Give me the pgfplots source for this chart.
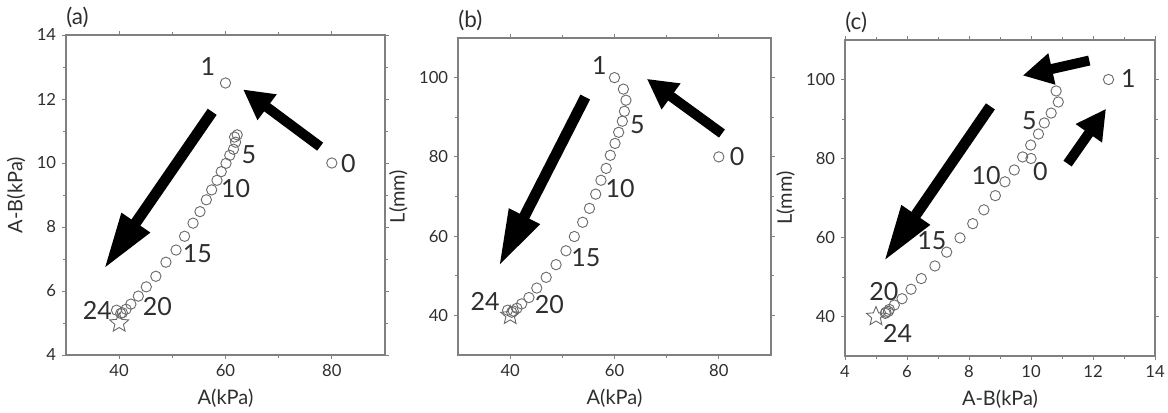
\documentclass[border=0pt]{standalone}
\usepackage{fontspec}
\setmainfont{Lato}
\usepackage{pgfplots}
\pgfplotsset{compat=1.18}
\usepackage{pgfplotstable}
\usetikzlibrary{arrows.meta}
\definecolor{axgray}{gray}{0.5}
\definecolor{mkgray}{gray}{0.42}
\definecolor{txtgray}{gray}{0.18}

% outlined five-point star for the start point
\pgfdeclareplotmark{ostar}{%
  \pgfpathmoveto{\pgfpointpolar{90}{\pgfplotmarksize}}%
  \pgfpathlineto{\pgfpointpolar{126}{0.45\pgfplotmarksize}}%
  \pgfpathlineto{\pgfpointpolar{162}{\pgfplotmarksize}}%
  \pgfpathlineto{\pgfpointpolar{198}{0.45\pgfplotmarksize}}%
  \pgfpathlineto{\pgfpointpolar{234}{\pgfplotmarksize}}%
  \pgfpathlineto{\pgfpointpolar{270}{0.45\pgfplotmarksize}}%
  \pgfpathlineto{\pgfpointpolar{306}{\pgfplotmarksize}}%
  \pgfpathlineto{\pgfpointpolar{342}{0.45\pgfplotmarksize}}%
  \pgfpathlineto{\pgfpointpolar{18}{\pgfplotmarksize}}%
  \pgfpathlineto{\pgfpointpolar{54}{0.45\pgfplotmarksize}}%
  \pgfpathclose
  \pgfusepathqfillstroke}

% step, A (kPa), A-B (kPa), L (mm)
\pgfplotstableread{
i A AB L
0 80 10 80
1 60 12.5 100
2 61.7 10.81 97.1
3 62.2 10.88 94.3
4 61.9 10.65 91.5
5 61.5 10.43 89.0
6 60.8 10.24 86.2
7 60.1 9.99 83.4
8 59.2 9.73 80.4
9 58.4 9.46 77.1
10 57.4 9.16 74.1
11 56.4 8.85 70.6
12 55.2 8.48 67.0
13 53.9 8.12 63.5
14 52.3 7.71 59.9
15 50.7 7.28 56.3
16 48.8 6.90 52.8
17 46.9 6.46 49.6
18 45.1 6.13 46.9
19 43.6 5.84 44.5
20 42.2 5.59 42.9
21 41.3 5.43 41.8
22 40.6 5.32 41.1
23 40.3 5.30 40.8
24 39.5 5.40 41.3
}\steps

\pgfplotsset{
  panel/.style={
    scale only axis, anchor=south west, clip=false,
    axis line style={axgray, line width=0.9pt},
    tick style={axgray, line width=0.6pt},
    tick align=outside, major tick length=2.4pt, minor tick length=1.6pt,
    minor tick num=1,
    tick label style={font=\fontsize{10}{11}\selectfont, text=txtgray},
    label style={font=\fontsize{12}{13}\selectfont, text=txtgray},
    /pgf/number format/assume math mode=true,
  },
  pts/.style={only marks, mark=o, mark size=3.1pt, mark options={draw=mkgray, line width=0.55pt}},
  startmark/.style={only marks, mark=ostar, mark size=6pt, mark options={draw=mkgray, fill=white, line width=0.55pt}},
}
\tikzset{
  bigarrow/.style={line width=6.5pt, -{Triangle[width=19pt, length=34pt]}},
  smallarrow/.style={line width=6pt, -{Triangle[width=18pt, length=18pt]}},
  num/.style={font=\fontsize{15}{16}\selectfont, text=txtgray},
  tag/.style={font=\fontsize{13.5}{15}\selectfont, text=txtgray, anchor=south west, inner sep=0pt, yshift=4pt},
}

\begin{document}
\begin{tikzpicture}
\path[use as bounding box] (0,0) rectangle (700.8pt,247.2pt);

% (a)
\begin{axis}[panel, at={(39.6pt,34.2pt)}, width=191.4pt, height=192pt,
  xmin=30, xmax=90, ymin=4, ymax=14,
  xtick={40,60,80}, ytick={4,6,...,14},
  xlabel={A(kPa)}, ylabel={A-B(kPa)}]
\addplot[startmark] coordinates {(40,5)};
\addplot[pts] table[x=A, y=AB] {\steps};
\draw[bigarrow] (axis cs:57.5,11.6) -- (axis cs:37.1,6.68);
\draw[smallarrow] (axis cs:77.8,10.51) -- (axis cs:63.3,12.3);
\node[num] at (axis cs:56.7,13.0) {1};
\node[num] at (axis cs:83.1,9.97) {0};
\node[num] at (axis cs:64.4,10.25) {5};
\node[num] at (axis cs:61.9,9.2) {10};
\node[num] at (axis cs:54.7,7.16) {15};
\node[num] at (axis cs:47.2,5.53) {20};
\node[num] at (axis cs:35.9,5.4) {24};
\node[tag] at (rel axis cs:0,1) {(a)};
\end{axis}

% (b)
\begin{axis}[panel, at={(274.8pt,34.2pt)}, width=187.8pt, height=190.2pt,
  xmin=30, xmax=90, ymin=30, ymax=110,
  xtick={40,60,80}, ytick={40,60,80,100},
  xlabel={A(kPa)}, ylabel={L(mm)}]
\addplot[startmark] coordinates {(40,40)};
\addplot[pts] table[x=A, y=L] {\steps};
\draw[bigarrow] (axis cs:54.4,95.1) -- (axis cs:37.8,52.3);
\draw[smallarrow] (axis cs:80.6,85.9) -- (axis cs:66.2,99.7);
\node[num] at (axis cs:57.1,103.1) {1};
\node[num] at (axis cs:83.5,80) {0};
\node[num] at (axis cs:64.4,88.2) {5};
\node[num] at (axis cs:61.1,72.0) {10};
\node[num] at (axis cs:54.5,54.7) {15};
\node[num] at (axis cs:47.5,42.7) {20};
\node[num] at (axis cs:35.2,43.5) {24};
\node[tag] at (rel axis cs:0,1) {(b)};
\end{axis}

% (c)
\begin{axis}[panel, at={(507pt,33.6pt)}, width=186pt, height=189.6pt,
  xmin=4, xmax=14, ymin=30, ymax=110,
  xtick={4,6,...,14}, ytick={40,60,80,100},
  xlabel={A-B(kPa)}, ylabel={L(mm)}]
\addplot[startmark] coordinates {(5,40)};
\addplot[pts] table[x=AB, y=L] {\steps};
\draw[bigarrow] (axis cs:8.69,93.2) -- (axis cs:5.25,53.9);
\draw[smallarrow] (axis cs:11.88,104.8) -- (axis cs:9.73,101);
\draw[smallarrow] (axis cs:11.18,78.7) -- (axis cs:12.42,92.6);
\node[num] at (axis cs:13.14,100.2) {1};
\node[num] at (axis cs:10.3,76.6) {0};
\node[num] at (axis cs:9.95,89.5) {5};
\node[num] at (axis cs:8.55,75.8) {10};
\node[num] at (axis cs:6.8,59.2) {15};
\node[num] at (axis cs:5.25,46.3) {20};
\node[num] at (axis cs:5.7,35.8) {24};
\node[tag] at (rel axis cs:0,1) {(c)};
\end{axis}
\end{tikzpicture}
\end{document}
